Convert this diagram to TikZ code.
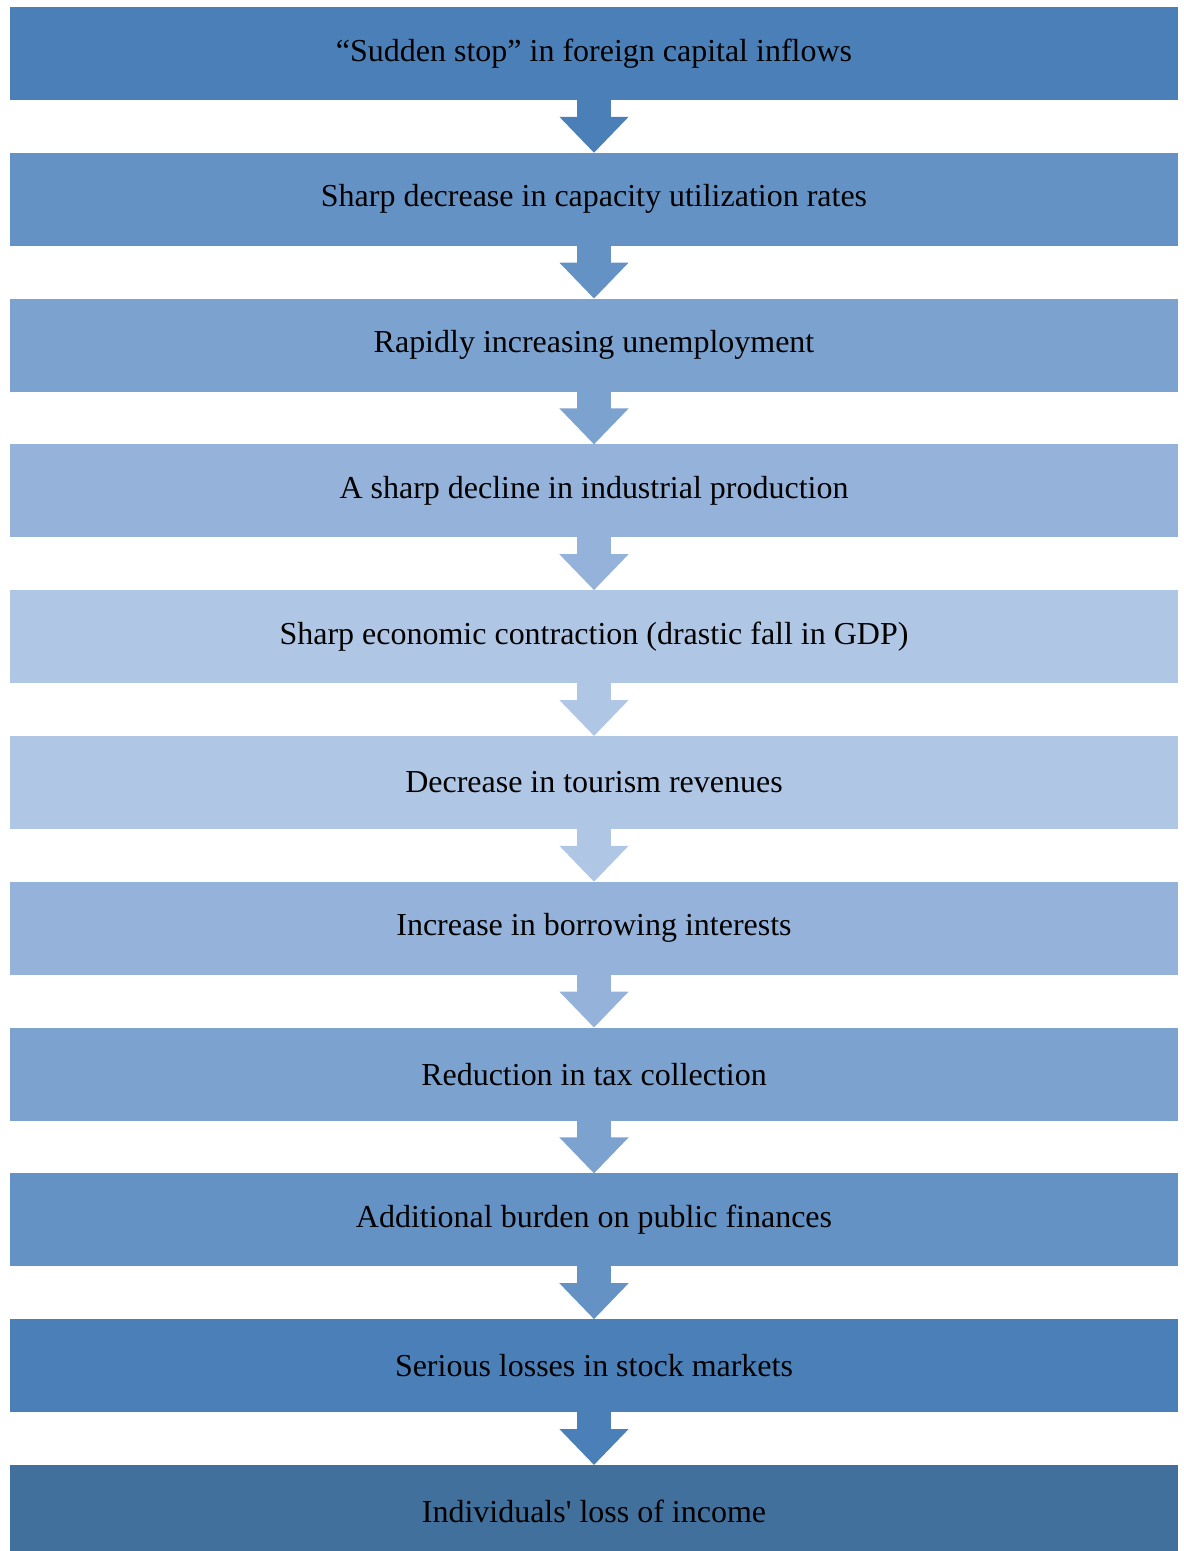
\documentclass[tikz,border=0pt]{standalone}
\usepackage{fontspec}
\setmainfont{Liberation Serif}
\usetikzlibrary{positioning, arrows.meta}
\definecolor{stepA}{HTML}{4A7FB7}
\definecolor{stepB}{HTML}{6592C4}
\definecolor{stepC}{HTML}{7CA2CF}
\definecolor{stepD}{HTML}{95B3DA}
\definecolor{stepE}{HTML}{B0C6E5}
\definecolor{stepF}{HTML}{41709C}
\tikzset{
    stage/.style={rectangle, inner sep=0pt, outer sep=0pt, minimum width=23.36cm, minimum height=1.86cm,
        font=\fontsize{18.2}{22}\selectfont, text=black},
    flow/.style={line width=0.68cm, -{Triangle[length=0.72cm, width=1.34cm]}}
}

\begin{document}
\begin{tikzpicture}[node distance=1.056cm]
    \useasboundingbox (0,0) rectangle (23.66,-31.02);
    \node[stage, fill=stepA] (s1) at (11.88,-1.07) {``Sudden stop'' in foreign capital inflows};
    \node[stage, fill=stepB] (s2) [below=of s1] {Sharp decrease in capacity utilization rates};
    \node[stage, fill=stepC] (s3) [below=of s2] {Rapidly increasing unemployment};
    \node[stage, fill=stepD] (s4) [below=of s3] {A sharp decline in industrial production};
    \node[stage, fill=stepE] (s5) [below=of s4] {Sharp economic contraction (drastic fall in GDP)};
    \node[stage, fill=stepE] (s6) [below=of s5] {Decrease in tourism revenues};
    \node[stage, fill=stepD] (s7) [below=of s6] {Increase in borrowing interests};
    \node[stage, fill=stepC] (s8) [below=of s7] {Reduction in tax collection};
    \node[stage, fill=stepB] (s9) [below=of s8] {Additional burden on public finances};
    \node[stage, fill=stepA] (s10) [below=of s9] {Serious losses in stock markets};
    \node[stage, fill=stepF] (s11) [below=of s10] {Individuals\textquotesingle\ loss of income};
    \path[flow]
        (s1.south)  edge[draw=stepA] (s2.north)
        (s2.south)  edge[draw=stepB] (s3.north)
        (s3.south)  edge[draw=stepC] (s4.north)
        (s4.south)  edge[draw=stepD] (s5.north)
        (s5.south)  edge[draw=stepE] (s6.north)
        (s6.south)  edge[draw=stepE] (s7.north)
        (s7.south)  edge[draw=stepD] (s8.north)
        (s8.south)  edge[draw=stepC] (s9.north)
        (s9.south)  edge[draw=stepB] (s10.north)
        (s10.south) edge[draw=stepA] (s11.north)
    ;
\end{tikzpicture}
\end{document}
